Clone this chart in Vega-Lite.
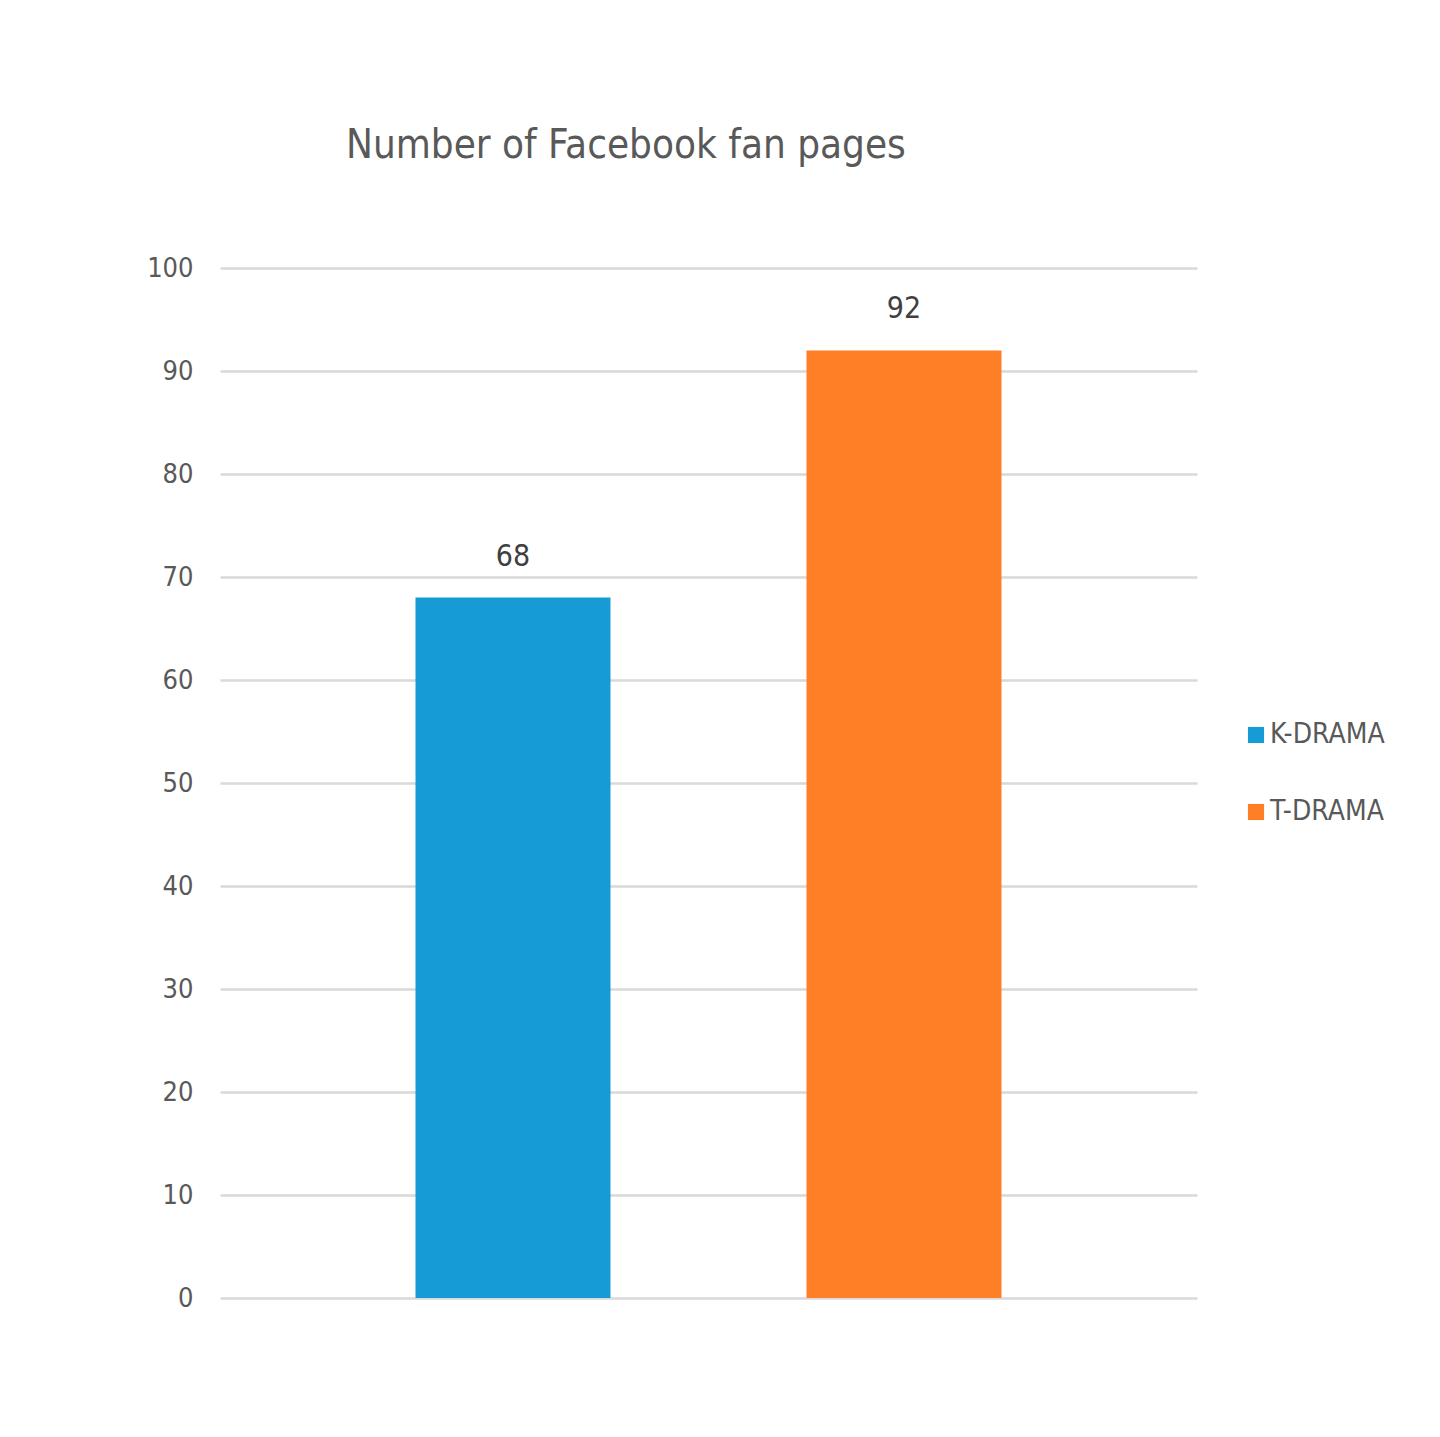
{
  "$schema": "https://vega.github.io/schema/vega-lite/v6.json",
  "autosize": {"type": "none"},
  "width": 977,
  "height": 1030,
  "padding": {"left": 220, "top": 268, "right": 243, "bottom": 139},
  "background": "white",
  "title": {
    "text": "Number of Facebook fan pages",
    "anchor": "start",
    "frame": "group",
    "dx": 126,
    "offset": 88,
    "font": "Liberation Sans Narrow, DejaVu Sans Condensed, Liberation Sans, sans-serif",
    "fontSize": 40,
    "fontWeight": "normal",
    "color": "#595959"
  },
  "config": {
    "view": {"stroke": null},
    "axis": {
      "labelFont": "Liberation Sans Narrow, DejaVu Sans Condensed, Liberation Sans, sans-serif",
      "labelFontSize": 27,
      "labelColor": "#595959"
    },
    "legend": {
      "labelFont": "Liberation Sans Narrow, DejaVu Sans Condensed, Liberation Sans, sans-serif",
      "labelFontSize": 28,
      "labelColor": "#595959"
    }
  },
  "data": {
    "values": [
      {"series": "K-DRAMA", "pages": 68},
      {"series": "T-DRAMA", "pages": 92}
    ]
  },
  "encoding": {
    "x": {
      "field": "series",
      "type": "nominal",
      "sort": null,
      "scale": {"paddingInner": 0.5013, "paddingOuter": 0.5},
      "axis": null
    },
    "y": {
      "field": "pages",
      "type": "quantitative",
      "scale": {"domain": [0, 100], "nice": false},
      "axis": {
        "title": null,
        "values": [0, 10, 20, 30, 40, 50, 60, 70, 80, 90, 100],
        "domain": false,
        "ticks": false,
        "labelPadding": 27,
        "grid": true,
        "gridColor": "#d9d9d9",
        "gridWidth": 2.5
      }
    }
  },
  "layer": [
    {
      "mark": {"type": "bar"},
      "encoding": {
        "color": {
          "field": "series",
          "type": "nominal",
          "scale": {
            "domain": ["K-DRAMA", "T-DRAMA"],
            "range": ["#179BD7", "#FF7F27"]
          },
          "legend": {
            "title": null,
            "orient": "none",
            "legendX": 1022,
            "legendY": 453,
            "symbolType": "square",
            "symbolSize": 260,
            "symbolStrokeWidth": 0,
            "rowPadding": 49,
            "labelOffset": 0
          }
        }
      }
    },
    {
      "mark": {
        "type": "text",
        "dy": -32,
        "baseline": "alphabetic",
        "font": "Liberation Sans Narrow, DejaVu Sans Condensed, Liberation Sans, sans-serif",
        "fontSize": 30,
        "color": "#404040"
      },
      "encoding": {
        "text": {"field": "pages", "type": "quantitative"}
      }
    }
  ]
}
